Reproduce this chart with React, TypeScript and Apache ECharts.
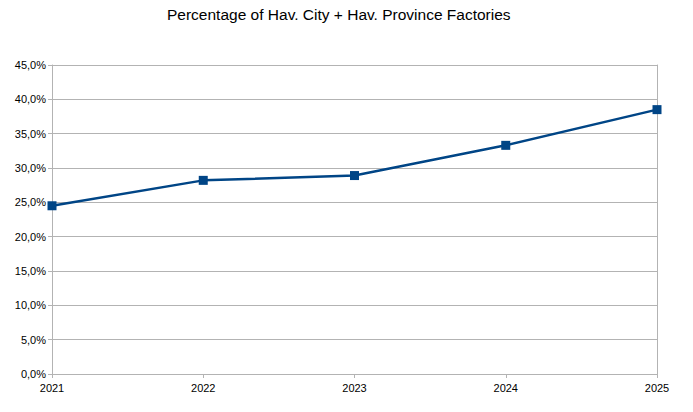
import React, { useEffect, useRef } from "react";
import * as echarts from "echarts";

const years = ["2021", "2022", "2023", "2024", "2025"];
const percentages = [24.5, 28.2, 28.9, 33.3, 38.5];
const chartTitle = "Percentage of Hav. City + Hav. Province Factories";

export default function App() {
  const ref = useRef<HTMLDivElement>(null);
  useEffect(() => {
    if (!ref.current) return;
    const chart = echarts.init(ref.current, undefined, { renderer: "svg" });
    chart.setOption({
      animation: false,
      backgroundColor: "#ffffff",
      textStyle: { fontFamily: "Liberation Sans" },
      title: {
        text: chartTitle,
        left: 167,
        top: 6,
        padding: 0,
        textStyle: { fontFamily: "Liberation Sans", fontSize: 15.5, fontWeight: "normal", color: "#000" },
      },
      grid: { left: 52, right: 36, top: 65, bottom: 38, containLabel: false, show: false },
      xAxis: {
        type: "category",
        data: years,
        boundaryGap: false,
        axisLine: { show: true, lineStyle: { color: "#b3b3b3", width: 1 } },
        axisTick: { show: true, length: 4, lineStyle: { color: "#b3b3b3" } },
        axisLabel: { color: "#000", fontSize: 11, margin: 8, fontFamily: "Liberation Sans" },
        splitLine: { show: false },
      },
      yAxis: [
        {
          type: "value",
          min: 0,
          max: 45,
          interval: 5,
          axisLine: { show: true, lineStyle: { color: "#b3b3b3", width: 1 } },
          axisTick: { show: true, length: 4, lineStyle: { color: "#b3b3b3" } },
          axisLabel: {
            color: "#000",
            fontSize: 11,
            margin: 6,
            fontFamily: "Liberation Sans",
            formatter: (v: number) => v.toFixed(1).replace(".", ",") + "%",
          },
          splitLine: { show: true, lineStyle: { color: "#b3b3b3", width: 1 } },
        },
        {
          type: "value",
          position: "right",
          min: 0,
          max: 45,
          interval: 5,
          axisLine: { show: true, lineStyle: { color: "#b3b3b3", width: 1 } },
          axisTick: { show: false },
          axisLabel: { show: false },
          splitLine: { show: false },
        },
      ],
      series: [
        {
          type: "line",
          data: percentages,
          yAxisIndex: 0,
          symbol: "rect",
          symbolSize: 9,
          lineStyle: { color: "#004586", width: 2.5 },
          itemStyle: { color: "#004586" },
        },
      ],
    });
    return () => chart.dispose();
  }, []);
  return <div ref={ref} style={{ width: 693, height: 412, position: "absolute", left: 0, top: 0 }} />;
}
